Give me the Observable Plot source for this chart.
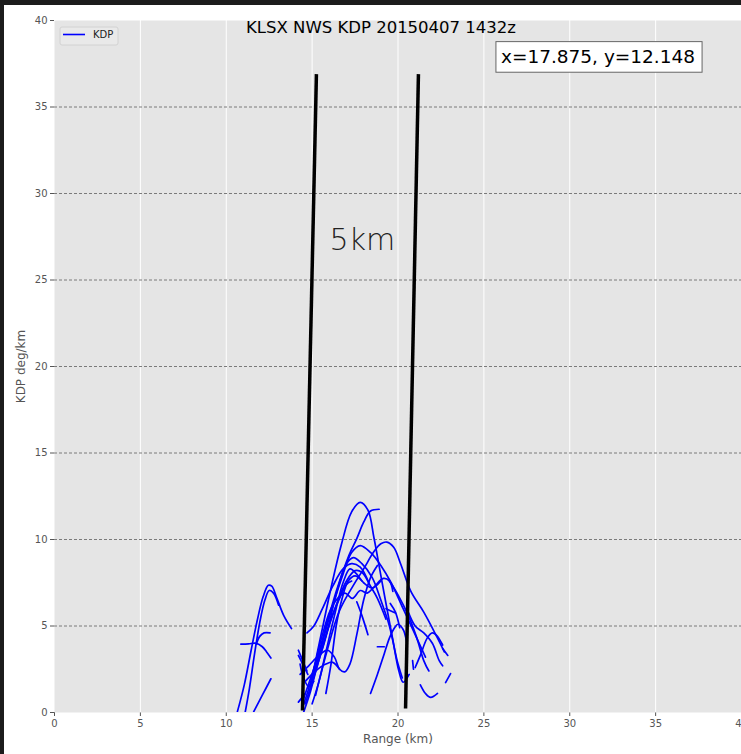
<!DOCTYPE html>
<html><head><meta charset="utf-8">
<script src="https://cdn.jsdelivr.net/npm/d3@7"></script>
<script src="https://cdn.jsdelivr.net/npm/@observablehq/plot@0.6"></script>
<style>
html,body{margin:0;padding:0;background:#1c1c1c;overflow:hidden;}
#wrap{padding:5px 0 0 4px;}
#chart{background:#fff;width:737px;height:749px;}
</style></head>
<body><div id="wrap"><div id="chart"></div></div>
<script>
const xTicks = [0, 5, 10, 15, 20, 25, 30, 35, 40];
const yTicks = [0, 5, 10, 15, 20, 25, 30, 35, 40];
const gridY = [5, 10, 15, 20, 25, 30, 35];
const title = "KLSX NWS KDP 20150407 1432z";
const xLabel = "Range (km)";
const yLabel = "KDP deg/km";
const legendLabel = "KDP";
const cursorText = "x=17.875, y=12.148";
const markers = [{label: "5km", x: 17.93, y: 27.3}];
const cutLines = [
  {x1: 14.44, y1: 0.12, x2: 15.25, y2: 36.9},
  {x1: 20.44, y1: 0.23, x2: 21.19, y2: 36.9}
];

const leftCurves = [
  [[10.65,0.05],[11.05,1.6],[11.45,3.6],[11.8,5.3],[12.15,6.7],[12.45,7.35],[12.65,7.3],[12.95,6.6],[13.35,5.6],[13.8,4.85]],
  [[11.1,0.0],[11.35,1.4],[11.65,3.4],[11.95,5.2],[12.25,6.5],[12.5,7.05],[12.75,6.9],[13.05,6.2]],
  [[10.85,3.95],[11.3,3.97],[11.75,4.0],[12.1,3.8],[12.35,3.5],[12.6,3.15]],
  [[11.75,3.95],[11.95,4.4],[12.2,4.6],[12.55,4.6]],
  [[11.6,0.05],[12.1,1.0],[12.6,1.95]]
];
const midCurves = [
  [[14.45,0.3],[14.95,1.9],[15.5,4.4],[16.1,7.2],[16.7,9.7],[17.3,11.6],[17.8,12.15],[18.25,11.7],[18.6,10.1],[18.95,8.2],[19.3,6.3],[19.7,4.2],[20.05,2.4],[20.3,1.75],[20.65,2.2]],
  [[14.6,0.5],[15.3,2.7],[15.95,5.0],[16.5,7.2],[17.15,9.1],[17.6,10.05],[18.0,11.0],[18.4,11.65],[18.9,11.75]],
  [[15.2,1.0],[15.85,3.5],[16.6,5.9],[17.4,7.35],[18.0,8.3],[18.6,9.3],[19.0,9.75],[19.35,9.85],[19.75,9.55],[20.15,8.6],[20.75,7.0],[21.5,5.8],[22.25,4.4],[22.7,3.5]],
  [[14.8,1.0],[15.45,3.5],[16.15,6.0],[16.8,8.0],[17.3,9.25],[17.8,9.65],[18.4,9.25],[19.0,8.5],[19.6,7.5],[20.3,6.0],[21.0,4.5],[21.6,3.2]],
  [[14.5,0.8],[15.25,3.0],[15.9,5.3],[16.5,7.3],[17.0,8.6],[17.4,8.95],[17.9,8.6],[18.5,7.8],[19.0,6.5],[19.5,5.0],[19.95,3.0],[20.25,2.0]],
  [[14.9,1.5],[15.6,3.8],[16.4,6.2],[17.0,7.6],[17.5,8.2],[17.9,8.1],[18.4,7.3],[18.8,6.6],[19.3,5.4]],
  [[15.0,2.0],[15.6,4.5],[16.2,6.2],[16.9,6.9],[17.35,6.6],[17.8,7.05],[18.2,6.9],[18.6,7.25],[19.15,7.75],[19.5,7.6],[19.7,7.0]],
  [[15.8,1.1],[16.1,2.8],[16.4,5.0],[16.75,6.6],[17.1,7.6],[17.5,7.9],[17.9,7.6]],
  [[14.3,2.2],[14.8,2.7],[15.4,3.3],[15.9,3.6],[16.3,3.2],[16.6,2.5],[16.9,2.35],[17.2,2.8],[17.6,4.5],[18.0,6.5],[18.4,7.8],[18.8,8.5]],
  [[14.6,1.8],[15.2,2.4],[15.8,2.8],[16.2,2.9],[16.6,2.5]],
  [[14.7,4.6],[15.1,5.0],[15.6,6.0],[16.2,7.3],[16.8,8.3],[17.3,8.6],[17.8,8.4],[18.3,7.5]],
  [[14.5,0.0],[14.9,1.2],[15.3,2.7],[15.7,4.0],[16.1,5.4],[16.6,6.6],[17.0,7.4],[17.3,7.6]],
  [[15.0,0.5],[15.4,1.8],[15.8,3.5],[16.3,5.6],[16.8,7.5],[17.2,8.3],[17.6,8.0],[18.0,7.5],[18.5,7.2],[19.0,7.6]],
  [[14.2,3.6],[14.45,3.0],[14.7,2.4]],
  [[14.2,3.3],[14.5,2.7],[14.75,2.2]],
  [[14.2,0.6],[14.6,1.1]],
  [[14.3,2.8],[14.5,2.0],[14.8,1.5],[15.1,1.8]],
  [[17.6,6.4],[17.9,5.6],[18.25,4.5]]
];
const rightCurves = [
  [[18.4,1.1],[18.8,2.2],[19.2,3.4],[19.5,4.3],[19.8,4.9],[20.0,5.1],[20.3,4.8],[20.5,4.1]],
  [[18.8,3.8],[19.2,3.8]],
  [[19.55,6.3],[19.85,5.8],[20.1,4.9]],
  [[19.3,6.0],[19.85,5.75]],
  [[19.5,7.6],[20.0,6.8],[20.6,5.6],[21.1,4.3],[21.5,3.0],[21.8,2.4]],
  [[20.6,5.8],[21.0,5.0],[21.5,4.6],[22.0,4.0],[22.4,3.0],[22.6,2.7]],
  [[21.0,2.6],[21.3,3.3],[21.7,4.3],[22.0,4.6],[22.3,4.4],[22.6,3.9]],
  [[22.6,3.7],[22.9,3.3]],
  [[21.3,1.6],[21.6,1.1],[21.9,0.87],[22.3,1.1]],
  [[22.77,1.73],[23.06,2.25]],
  [[20.85,3.0],[20.9,2.5]]
];

const rows = [];
[...leftCurves, ...midCurves, ...rightCurves].forEach((c, i) =>
  c.forEach(([x, y]) => rows.push({id: i, x, y})));

const plot = Plot.plot({
  width: 737, height: 749,
  marginLeft: 50, marginRight: 0, marginTop: 15, marginBottom: 42,
  style: {background: "#fff", color: "#555", fontFamily: "DejaVu Sans", fontSize: "10px", overflow: "visible"},
  x: {domain: [0, 40], ticks: xTicks, tickSize: 4, tickPadding: 3, label: null},
  y: {domain: [0, 40], ticks: yTicks, tickSize: 4, tickPadding: 3, label: null},
  marks: [
    Plot.frame({fill: "#e5e5e5", stroke: null}),
    Plot.ruleX(xTicks.slice(1, -1), {stroke: "#ffffff", strokeWidth: 1}),
    Plot.ruleY(gridY, {stroke: "#7a7a7a", strokeWidth: 1, strokeDasharray: "3,2"}),
    Plot.line(rows, {x: "x", y: "y", z: "id", stroke: "#0000ff", strokeWidth: 1.7, curve: "catmull-rom", clip: true}),
    Plot.link(cutLines, {x1: "x1", y1: "y1", x2: "x2", y2: "y2", stroke: "#000", strokeWidth: 3.5}),
    Plot.text(markers, {x: "x", y: "y", text: "label", fontSize: 30, fill: "#222", fontWeight: 300}),
    Plot.text([title], {frameAnchor: "top", dx: -17, dy: 7, lineAnchor: "middle", fontSize: 16.5, fill: "#000"}),
    Plot.text([xLabel], {frameAnchor: "bottom", dy: 27, lineAnchor: "middle", fontSize: 12, fill: "#555"}),
    Plot.text([yLabel], {frameAnchor: "left", dx: -33, rotate: -90, lineAnchor: "middle", textAnchor: "middle", fontSize: 12, fill: "#555"}),
    Plot.text([cursorText], {frameAnchor: "top-right", dx: -143.5, dy: 37, textAnchor: "middle", lineAnchor: "middle", fontSize: 18.5, fill: "#000"})
  ]
});
document.getElementById("chart").appendChild(plot);

const svg = d3.select(plot);
// cursor readout box
svg.selectAll("text").each(function() {
  if (this.textContent === cursorText) {
    const bb = this.getBBox();
    const t = this.getAttribute("transform");
    const r = d3.select(this.parentNode).insert("rect", () => this)
      .attr("x", bb.x - 5).attr("y", bb.y + bb.height / 2 - 15.3)
      .attr("width", bb.width + 12).attr("height", 30.6)
      .attr("fill", "#fff").attr("stroke", "#666").attr("stroke-width", 1);
    if (t) r.attr("transform", t);
  }
});
// legend
const lg = svg.append("g").attr("text-anchor", "start");
lg.append("rect").attr("x", 56).attr("y", 22).attr("width", 58).attr("height", 18).attr("rx", 2)
  .attr("fill", "#e9e9e9").attr("stroke", "#d2d2d2");
lg.append("line").attr("x1", 59).attr("x2", 81).attr("y1", 29.5).attr("y2", 29.5)
  .attr("stroke", "#0000ff").attr("stroke-width", 1.6);
lg.append("text").attr("x", 89).attr("y", 29.5).attr("dy", "0.35em").attr("font-size", 10)
  .attr("text-anchor", "start").attr("fill", "#222").text(legendLabel);
</script>
</body></html>
